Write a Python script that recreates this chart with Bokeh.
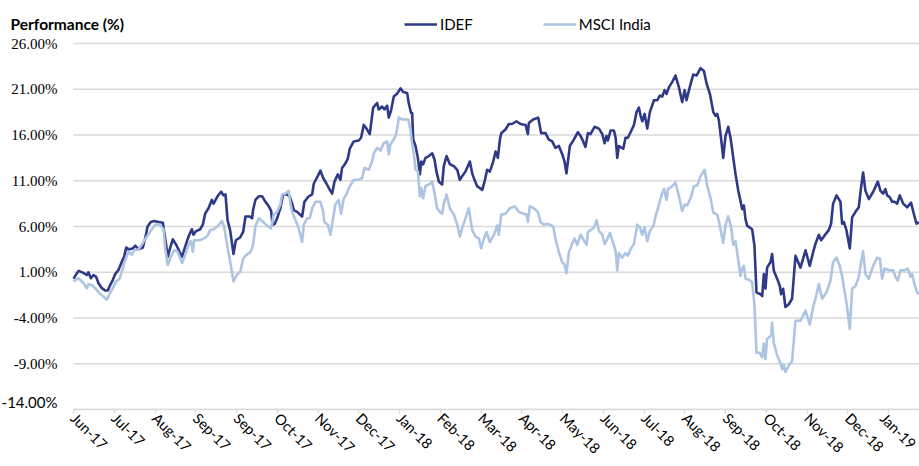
import math
from bokeh.plotting import figure
from bokeh.models import (Legend, LegendItem, FixedTicker, Range1d, ColumnDataSource,
                          LabelSet, Label)
from bokeh.embed import file_html
from bokeh.resources import INLINE

# ---- axis categories (one tick per 30 days, as in the source chart) ----
month_labels = ["Jun-17", "Jul-17", "Aug-17", "Sep-17", "Sep-17", "Oct-17", "Nov-17",
                "Dec-17", "Jan-18", "Feb-18", "Mar-18", "Apr-18", "May-18", "Jun-18",
                "Jul-18", "Aug-18", "Sep-18", "Oct-18", "Nov-18", "Dec-18", "Jan-19"]
tick_days = [0, 30, 60, 90, 120, 150, 180, 210, 240, 270, 300, 330, 360, 390,
             420, 450, 480, 510, 540, 570, 600]
y_ticks = [-14, -9, -4, 1, 6, 11, 16, 21, 26]
y_tick_labels = ["-14.00%", "-9.00%", "-4.00%", "1.00%", "6.00%", "11.00%",
                 "16.00%", "21.00%", "26.00%"]
series_names = ["IDEF", "MSCI India"]
axis_title = "Performance (%)"

# ---- IDEF (days since start, performance %) ----
idef_day = [0, 3.7, 6.9, 9.8, 11.0, 12.8, 14.7, 16.7, 18.4, 20.9, 23.3, 25.3, 27.0, 29.0,
            30.7, 33.1, 35.6, 37.3, 38.8, 40.5, 43.7, 45.4, 47.9, 51.0, 52.8, 54.5, 56.9,
            59.4, 62.6, 65.8, 67.5, 69.4, 71.2, 73.1, 75.6, 78.0, 80.0, 82.2, 84.7, 87.1,
            88.3, 90.3, 93.3, 95.2, 96.9, 99.4, 101.8, 103.1, 106.0, 108.7, 110.4, 111.9,
            113.4, 115.3, 117.8, 119.5, 122.7, 124.9, 126.6, 129.8, 131.5, 132.2, 133.9,
            136.4, 138.9, 141.3, 143.8, 145.5, 146.5, 148.2, 149.9, 152.3, 154.3, 157.3,
            159.2, 160.9, 162.2, 164.6, 168.3, 170.0, 173.2, 175.7, 176.9, 179.8, 181.8,
            183.8, 186.2, 188.7, 190.4, 192.1, 194.6, 196.5, 197.7, 200.2, 201.9, 203.4,
            206.3, 210.0, 211.7, 213.7, 215.7, 218.1, 220.6, 223.5, 224.7, 227.2, 228.9,
            230.9, 232.1, 233.8, 235.8, 238.2, 240.7, 242.7, 245.6, 246.8, 248.5, 249.3,
            250.1, 251.8, 253.5, 255.0, 256.0, 257.4, 259.1, 261.6, 264.1, 265.8, 267.2,
            269.0, 271.4, 272.6, 274.6, 277.1, 280.0, 282.5, 284.4, 286.1, 288.6, 291.8,
            293.5, 295.2, 297.2, 299.1, 300.9, 302.6, 304.5, 306.5, 309.0, 310.7, 312.4,
            313.9, 314.9, 318.0, 320.5, 322.9, 326.1, 329.1, 332.8, 334.5, 335.2, 338.4,
            342.1, 344.3, 347.5, 349.9, 352.4, 354.8, 357.3, 359.8, 361.5, 362.9, 365.4,
            368.3, 371.3, 373.3, 375.2, 376.9, 378.7, 380.6, 383.6, 386.8, 389.3, 391.0,
            392.4, 393.4, 395.4, 397.8, 399.1, 400.3, 401.5, 404.7, 406.4, 408.1, 410.1,
            412.6, 414.5, 416.2, 417.5, 418.7, 420.4, 422.4, 424.3, 427.3, 429.7, 431.7,
            433.4, 435.1, 436.6, 438.3, 440.8, 443.2, 445.7, 448.1, 449.9, 451.3, 453.1,
            456.2, 458.7, 461.6, 464.1, 466.1, 468.5, 471.0, 472.7, 473.9, 475.1, 476.9,
            478.3, 480.0, 482.0, 483.7, 485.7, 487.4, 489.4, 491.0, 492.2, 493.5, 494.7,
            495.9, 499.6, 501.3, 502.8, 505.7, 507.0, 508.2, 509.4, 510.6, 513.1, 514.3,
            515.5, 518.0, 520.0, 520.9, 522.4, 524.1, 526.6, 529.0, 531.5, 535.2, 538.9,
            542.0, 544.5, 546.2, 548.7, 550.4, 552.8, 556.0, 557.7, 559.2, 561.7, 564.6,
            565.8, 567.1, 569.0, 571.5, 573.2, 575.7, 578.1, 579.8, 581.3, 583.0, 585.5,
            588.7, 592.1, 594.1, 596.0, 597.7, 599.0, 600.9, 602.7, 604.4, 606.3, 608.3,
            610.8, 613.7, 616.6, 618.6, 620.6, 622.3]
idef_pct = [0.3, 1.15, 0.96, 0.7, 1.0, 0.35, 0.7, 0.5, -0.2, -0.74, -1.0, -1.0, -0.4, 0.17,
            0.8, 1.25, 2.16, 2.7, 3.7, 3.5, 3.6, 3.9, 3.5, 3.7, 4.7, 6.0, 6.5,
            6.6, 6.5, 6.4, 4.7, 2.7, 3.7, 4.6, 4.0, 3.25, 2.7, 3.8, 4.9, 5.7,
            5.1, 5.5, 5.7, 6.2, 7.4, 8.0, 8.9, 8.5, 9.3, 9.8, 9.4, 9.5,
            6.7, 5.6, 3.0, 4.5, 4.8, 5.4, 7.1, 7.1, 6.9, 7.8, 8.9,
            9.3, 9.3, 8.7, 8.2, 7.7, 6.2, 6.3, 6.9, 8.0, 9.5, 9.5,
            9.3, 8.5, 7.8, 7.6, 7.1, 8.7, 9.3, 9.5, 10.7, 11.5, 12.1,
            11.3, 10.7, 10.0, 9.6, 10.9, 11.7, 11.1, 12.4, 12.9, 13.4, 14.5,
            15.3, 15.4, 15.7, 17.1, 16.7, 16.1, 19.0, 19.5, 18.8, 19.1, 18.8,
            19.2, 17.9, 18.7, 20.2, 20.5, 21.1, 20.7, 20.6, 19.5, 18.4, 18.4,
            15.5, 14.8, 13.5, 11.7, 13.1, 12.8, 13.5, 13.7, 14.0, 13.3, 12.0,
            10.9, 10.6, 12.6, 13.7, 12.8, 12.6, 12.2, 11.1, 11.5, 12.0, 13.1,
            11.8, 11.1, 10.4, 10.2, 10.0, 10.9, 12.2, 12.0, 13.1, 14.2, 13.5,
            15.5, 16.2, 16.6, 17.2, 17.2, 17.5, 17.2, 17.1, 16.1, 17.3, 17.7,
            17.9, 16.2, 16.2, 15.5, 15.3, 14.6, 14.8, 13.9, 13.1, 11.8, 14.8,
            15.5, 16.3, 15.9, 15.3, 14.7, 16.2, 16.1, 16.9, 16.7, 16.1, 15.1,
            15.9, 15.4, 16.5, 16.5, 15.7, 13.5, 14.8, 14.5, 15.7, 15.7, 16.3,
            17.1, 18.5, 19.0, 18.1, 17.5, 18.3, 16.7, 18.5, 19.8, 19.8, 20.3,
            20.2, 20.9, 20.5, 21.2, 21.8, 22.5, 21.2, 19.6, 20.9, 19.8, 20.9,
            22.6, 22.5, 23.3, 23.0, 21.6, 20.5, 18.5, 18.1, 18.3, 17.6, 15.4,
            13.5, 15.9, 16.9, 15.7, 13.5, 11.7, 9.9, 8.8, 7.9, 8.3, 6.8,
            6.1, 5.7, 3.9, -1.2, -1.4, -1.6, 0.8, -0.8, 1.5, 2.1, 3.0,
            1.2, 0.3, -0.5, -1.4, -0.8, -2.8, -2.5, -1.9, 2.8, 1.5, 3.4,
            1.7, 3.2, 4.1, 5.1, 4.5, 5.0, 5.6, 6.3, 8.5, 9.4, 8.7,
            6.3, 6.5, 5.6, 3.6, 7.0, 7.6, 8.1, 10.3, 11.9, 9.9, 9.0,
            9.8, 10.9, 9.9, 9.6, 10.1, 9.4, 9.2, 8.7, 8.7, 8.5, 9.4,
            8.5, 8.1, 8.6, 7.4, 6.3, 6.5]

# ---- MSCI India (days since start, performance %) ----
msci_day = [0, 3.7, 7.4, 9.8, 11.0, 13.5, 16.0, 19.1, 22.1, 24.5, 26.5, 29.0, 31.4, 33.9,
            36.3, 38.0, 40.5, 42.9, 44.7, 47.9, 51.5, 54.5, 57.7, 60.1, 63.3, 66.3, 67.5,
            69.4, 71.7, 74.1, 76.6, 80.0, 82.2, 84.7, 86.4, 87.9, 88.8, 92.8, 96.2, 98.7,
            100.6, 103.1, 106.0, 109.2, 110.9, 112.9, 115.3, 117.8, 120.2, 122.9, 124.9,
            127.3, 130.3, 132.2, 133.9, 136.4, 139.6, 142.5, 145.5, 147.4, 149.9, 152.3,
            153.6, 156.0, 158.5, 159.7, 160.9, 163.4, 165.8, 168.3, 169.5, 172.0, 173.9,
            175.7, 178.1, 181.8, 183.8, 184.7, 187.2, 189.2, 191.1, 192.8, 195.3, 197.0,
            199.0, 200.9, 202.7, 206.3, 210.0, 212.5, 214.2, 217.4, 219.8, 221.1, 223.5,
            226.0, 228.4, 230.9, 232.1, 233.3, 235.8, 237.7, 239.5, 241.9, 245.6, 246.5,
            248.1, 249.3, 250.6, 251.8, 253.5, 255.0, 256.0, 257.4, 259.1, 261.6, 264.1,
            265.8, 267.7, 269.7, 271.4, 272.6, 274.6, 277.1, 280.0, 282.5, 284.4, 286.9,
            288.6, 291.0, 293.5, 296.0, 298.4, 300.1, 302.1, 304.1, 306.5, 309.5, 311.9,
            313.1, 314.9, 318.0, 321.2, 324.7, 327.9, 331.5, 333.5, 334.5, 335.9, 338.9,
            341.8, 343.8, 346.3, 348.7, 350.7, 353.1, 354.8, 357.3, 359.8, 361.5, 362.9,
            364.7, 367.1, 368.8, 370.8, 373.3, 375.7, 377.7, 378.7, 380.6, 383.1, 385.1,
            386.8, 389.3, 391.0, 392.9, 394.9, 397.3, 399.1, 400.3, 401.5, 404.0, 406.4,
            408.1, 410.1, 412.6, 415.0, 417.0, 418.7, 420.4, 422.4, 424.3, 426.8, 428.5,
            431.0, 433.4, 434.7, 436.6, 437.6, 440.0, 443.2, 445.7, 448.1, 449.9, 451.8,
            454.3, 456.7, 459.2, 461.6, 464.6, 466.6, 469.0, 471.0, 473.9, 475.1, 478.3,
            480.0, 482.0, 484.2, 485.7, 487.4, 489.1, 491.0, 492.2, 493.5, 494.7, 497.1,
            499.6, 501.3, 502.8, 505.2, 507.0, 508.2, 509.4, 510.6, 513.6, 514.3, 515.5,
            518.0, 520.4, 521.7, 522.9, 524.1, 526.6, 529.0, 531.5, 535.2, 538.9, 542.0,
            544.5, 546.2, 548.7, 551.1, 554.3, 557.3, 559.2, 561.7, 564.1, 565.8, 569.0,
            571.5, 573.2, 575.7, 578.1, 579.8, 581.3, 583.0, 585.5, 588.7, 591.6, 593.6,
            595.3, 597.0, 600.9, 603.4, 605.1, 606.8, 608.8, 611.7, 614.2, 616.2, 617.4,
            619.1, 621.1, 622.3]
msci_pct = [0.0, 0.35, -0.2, -0.74, -0.3, -0.4, -0.74, -1.3, -1.65, -2.0, -1.4, -0.74, 0.0, 0.27,
            1.43, 2.34, 3.25, 2.9, 3.4, 3.5, 4.3, 5.0, 5.7, 6.2, 6.2, 5.7, 3.6,
            1.8, 2.7, 3.4, 3.25, 2.0, 2.9, 4.0, 4.4, 3.25, 4.5, 4.5, 4.7, 5.0,
            5.6, 5.7, 6.0, 6.6, 6.0, 4.15, 2.2, 0.0, 0.7, 1.1, 2.5,
            2.9, 3.2, 4.0, 6.0, 6.9, 6.5, 6.1, 5.8, 7.3, 7.6, 8.4,
            9.5, 9.6, 9.9, 8.5, 7.6, 6.7, 5.8, 4.3, 6.2, 6.9, 6.9,
            8.0, 8.7, 8.7, 7.6, 6.5, 6.2, 5.1, 6.9, 8.4, 8.9, 7.4,
            9.1, 9.5, 10.2, 11.1, 11.1, 11.3, 12.4, 12.2, 13.1, 14.0, 14.6,
            14.3, 15.1, 15.3, 13.9, 15.0, 15.5, 16.2, 17.9, 17.7, 17.7, 17.7,
            16.5, 15.0, 13.9, 12.2, 12.0, 9.3, 10.2, 9.1, 10.4, 10.6, 10.9,
            9.6, 8.0, 7.6, 7.4, 8.5, 9.5, 8.0, 7.3, 6.2, 4.9, 6.2,
            6.9, 8.0, 5.6, 4.9, 4.7, 3.6, 4.7, 5.4, 4.3, 5.1, 6.1,
            5.1, 7.3, 7.4, 8.0, 8.2, 7.6, 7.4, 7.3, 6.5, 8.2, 8.0,
            7.6, 6.5, 6.2, 6.3, 6.2, 6.0, 4.7, 3.2, 2.1, 1.8, 0.9,
            3.2, 4.1, 4.7, 4.0, 5.1, 4.5, 4.0, 5.4, 5.6, 5.9, 6.7,
            5.5, 5.1, 4.1, 4.6, 5.3, 4.2, 3.3, 1.2, 3.1, 2.6, 3.1,
            2.8, 3.5, 4.1, 6.2, 5.9, 5.1, 5.9, 4.4, 5.5, 6.0, 7.1,
            8.4, 9.7, 10.1, 8.9, 10.1, 10.3, 10.8, 9.3, 7.7, 8.4, 8.3,
            9.1, 10.4, 10.5, 11.5, 12.2, 10.4, 9.1, 7.5, 7.3, 6.6, 4.2,
            6.2, 7.1, 5.9, 4.0, 4.4, 2.6, 0.6, 1.4, 1.7, 0.3, 0.2,
            -0.1, -2.6, -7.8, -7.8, -8.3, -6.8, -8.5, -6.3, -5.9, -4.5, -6.7,
            -8.1, -8.9, -9.6, -9.1, -9.9, -9.2, -8.7, -4.3, -4.3, -3.2, -4.7,
            -2.8, -1.9, -0.3, -1.9, -1.2, 0.1, 2.1, 2.6, 1.7, 0.6, -2.3,
            -5.2, -0.8, -0.5, 0.5, 2.1, 3.3, 0.8, 0.3, 1.7, 2.6, 2.5,
            0.3, 1.4, 1.2, 1.2, 0.5, 0.1, 1.2, 1.2, 1.4, 0.5, 0.8,
            -0.3, -1.2, -1.4]

IDEF_COLOR = "#2E3A87"
MSCI_COLOR = "#ADC4E2"
GRID = "#D9D9D9"
FONT = "Lato"

# ---- layout (pixels) ----
W, H = 919, 466
PLOT_LEFT_PX = 73      # where the plotting area starts
PLOT_TOP_PX = 43       # pixel row of the top tick value
BOTTOM_BORDER = 57     # room for the slanted month labels
frame_h = H - BOTTOM_BORDER
X_END = 622.8                                   # last day shown
px_per_day = (W - PLOT_LEFT_PX) / X_END
x_start = -PLOT_LEFT_PX / px_per_day             # canvas left edge, in days
px_per_pct = (frame_h - PLOT_TOP_PX) / (y_ticks[-1] - y_ticks[0])
y_top = y_ticks[-1] + PLOT_TOP_PX / px_per_pct

p = figure(width=W, height=H, output_backend="svg", toolbar_location=None, title=None,
           x_range=Range1d(x_start, X_END), y_range=Range1d(y_ticks[0], y_top),
           y_axis_location=None,
           min_border_left=0, min_border_right=0, min_border_top=0,
           min_border_bottom=BOTTOM_BORDER)
p.outline_line_color = None
p.background_fill_color = "white"
p.border_fill_color = "white"
p.xgrid.grid_line_color = None
p.ygrid.grid_line_color = None

# horizontal grid lines at the y ticks, spanning the plotting area only
p.segment(x0=[0] * len(y_ticks), x1=[X_END] * len(y_ticks), y0=y_ticks, y1=y_ticks,
          line_color=GRID, line_width=1.3)

r1 = p.line(idef_day, idef_pct, line_color=IDEF_COLOR, line_width=2.6, line_join="round")
r2 = p.line(msci_day, msci_pct, line_color=MSCI_COLOR, line_width=2.6, line_join="round")

# y tick labels (the lowest one is lifted just above the axis line so it is not cut)
ysrc = ColumnDataSource(dict(x=[0] * (len(y_ticks) - 1), y=y_ticks[1:], text=y_tick_labels[1:]))
p.add_layout(LabelSet(x="x", y="y", text="text", source=ysrc, x_offset=-16,
                      text_align="right", text_baseline="middle",
                      text_font=FONT, text_font_size="15px", text_color="#000000"))
p.add_layout(Label(x=0, y=y_ticks[0], text=y_tick_labels[0], x_offset=-16, y_offset=8,
                   text_align="right", text_baseline="middle",
                   text_font=FONT, text_font_size="15px", text_color="#000000"))

# x axis
p.xaxis.bounds = (0, X_END)
p.xaxis.ticker = FixedTicker(ticks=tick_days)
p.xaxis.major_label_overrides = {d: lab for d, lab in zip(tick_days, month_labels)}
p.xaxis.major_label_orientation = -math.pi / 4
p.xaxis.axis_line_color = GRID
p.xaxis.axis_line_width = 1.3
p.xaxis.major_tick_line_color = GRID
p.xaxis.major_tick_line_width = 1.3
p.xaxis.major_tick_in = 0
p.xaxis.major_tick_out = 4
p.xaxis.minor_tick_line_color = None
p.xaxis.major_label_standoff = 2
p.xaxis.major_label_text_font = FONT
p.xaxis.major_label_text_font_size = "14.5px"
p.xaxis.major_label_text_color = "#000000"

# caption at the top left
p.add_layout(Label(x=x_start + 10 / px_per_day, y=y_top - 23 / px_per_pct, text=axis_title,
                   text_align="left", text_baseline="middle",
                   text_font=FONT, text_font_size="15.5px", text_font_style="bold",
                   text_color="#000000"))

legend = Legend(items=[LegendItem(label=series_names[0], renderers=[r1]),
                       LegendItem(label=series_names[1], renderers=[r2])],
                location=(404, frame_h - 33), orientation="horizontal",
                glyph_width=33, glyph_height=16, label_height=16, label_standoff=3, spacing=70,
                padding=0, margin=0, border_line_color=None, background_fill_alpha=0,
                label_text_font=FONT, label_text_font_size="15px", label_text_color="#000000")
p.add_layout(legend)

open("out.html", "w").write(file_html(p, INLINE))
